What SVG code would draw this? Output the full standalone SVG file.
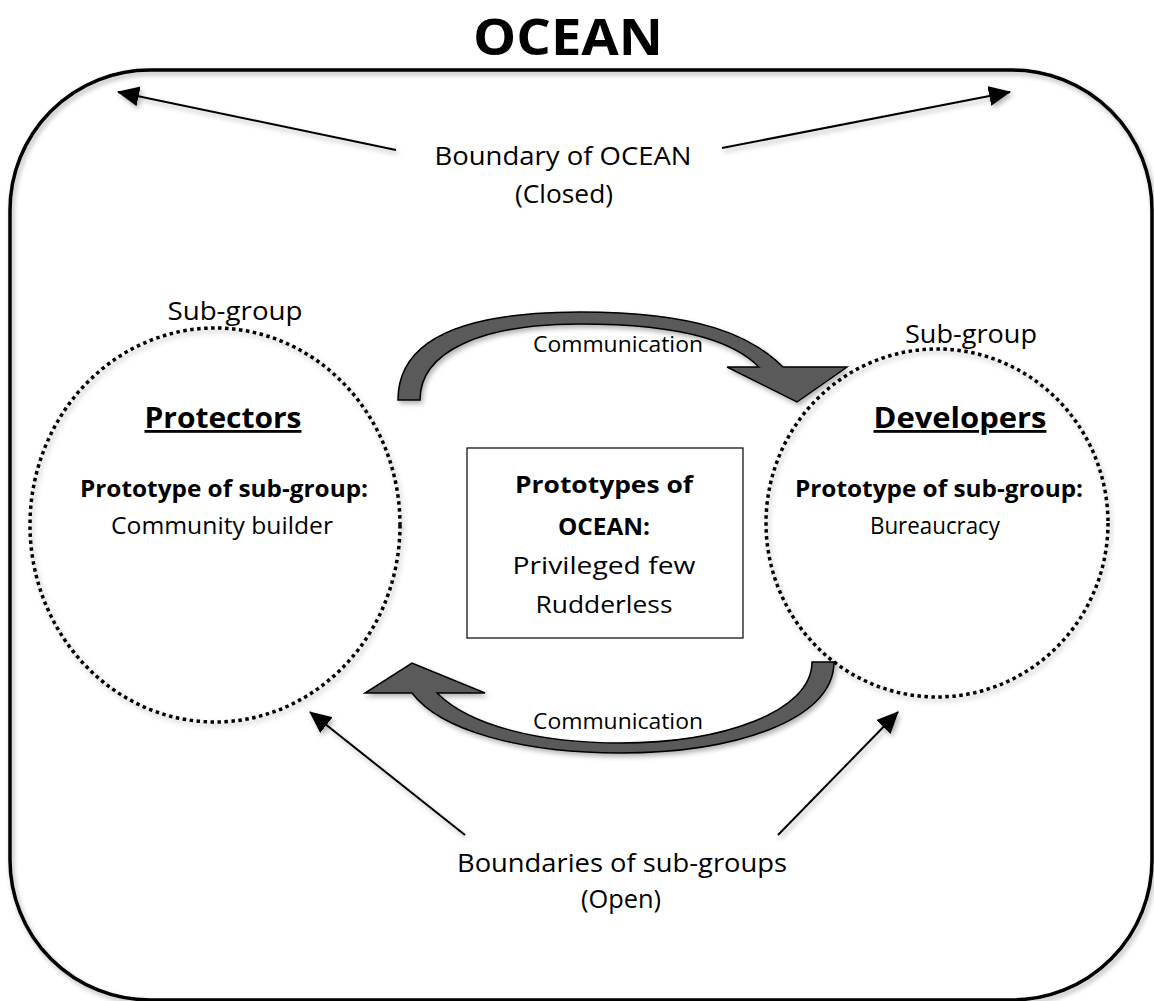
<svg xmlns="http://www.w3.org/2000/svg" width="1154" height="1001" viewBox="0 0 1154 1001">
  <defs>
    <filter id="shadow" x="-10%" y="-10%" width="120%" height="120%">
      <feDropShadow dx="2" dy="3" stdDeviation="2.5" flood-color="#000" flood-opacity="0.3"/>
    </filter>
    <marker id="head" markerUnits="userSpaceOnUse" markerWidth="22" markerHeight="20" refX="21" refY="10" orient="auto">
      <path d="M0,0 L22,10 L0,20 z" fill="#000"/>
    </marker>
  </defs>
  <style>
    text { font-family: "Open Sans", "Noto Sans", "Liberation Sans", sans-serif; fill: #000; }
    .b { font-weight: bold; }
    .u { text-decoration: underline; }
    .ptr { stroke: #000; stroke-width: 2; fill: none; marker-end: url(#head); }
    .comm { fill: #5a5a5a; stroke: #000; stroke-width: 1.5; stroke-linejoin: miter; }
    .sub { fill: none; stroke: #000; stroke-width: 3.5; stroke-dasharray: 3.5 3.5; }
  </style>
  <rect width="1154" height="1001" fill="#fff"/>

  <g id="ocean">
    <rect x="10" y="70" width="1142" height="930" rx="140" ry="140" fill="none" stroke="#000" stroke-width="3.5" filter="url(#shadow)"/>
    <text x="568" y="55" font-size="50" class="b" text-anchor="middle" textLength="190" lengthAdjust="spacingAndGlyphs">OCEAN</text>
  </g>

  <g id="protectors">
    <ellipse cx="215" cy="525" rx="185" ry="197" class="sub" filter="url(#shadow)"/>
    <text x="235" y="320" font-size="25" text-anchor="middle" textLength="135" lengthAdjust="spacingAndGlyphs">Sub-group</text>
    <text x="223" y="428" font-size="28" class="b u" text-anchor="middle" textLength="157" lengthAdjust="spacingAndGlyphs">Protectors</text>
    <text x="224" y="497" font-size="24" class="b" text-anchor="middle" textLength="288" lengthAdjust="spacingAndGlyphs">Prototype of sub-group:</text>
    <text x="222" y="534" font-size="24" text-anchor="middle" textLength="222" lengthAdjust="spacingAndGlyphs">Community builder</text>
  </g>

  <g id="developers">
    <ellipse cx="937" cy="523" rx="171" ry="174" class="sub" filter="url(#shadow)"/>
    <text x="971" y="343" font-size="25" text-anchor="middle" textLength="132" lengthAdjust="spacingAndGlyphs">Sub-group</text>
    <text x="960" y="428" font-size="28" class="b u" text-anchor="middle" textLength="173" lengthAdjust="spacingAndGlyphs">Developers</text>
    <text x="939" y="497" font-size="24" class="b" text-anchor="middle" textLength="288" lengthAdjust="spacingAndGlyphs">Prototype of sub-group:</text>
    <text x="935" y="534" font-size="24" text-anchor="middle" textLength="130" lengthAdjust="spacingAndGlyphs">Bureaucracy</text>
  </g>

  <g id="prototypes">
    <rect x="467" y="448" width="276" height="190" fill="#fff" stroke="#000" stroke-width="1.2"/>
    <text x="604" y="493" font-size="24" class="b" text-anchor="middle" textLength="178" lengthAdjust="spacingAndGlyphs">Prototypes of</text>
    <text x="604" y="535" font-size="24" class="b" text-anchor="middle" textLength="92" lengthAdjust="spacingAndGlyphs">OCEAN:</text>
    <text x="604" y="574" font-size="24" text-anchor="middle" textLength="183" lengthAdjust="spacingAndGlyphs">Privileged few</text>
    <text x="604" y="613" font-size="24" text-anchor="middle" textLength="137" lengthAdjust="spacingAndGlyphs">Rudderless</text>
  </g>

  <g id="label-ocean-boundary">
    <text x="563" y="165" font-size="25" text-anchor="middle" textLength="257" lengthAdjust="spacingAndGlyphs">Boundary of OCEAN</text>
    <text x="564" y="203" font-size="25" text-anchor="middle" textLength="98" lengthAdjust="spacingAndGlyphs">(Closed)</text>
  </g>

  <g id="label-sub-boundaries">
    <text x="622" y="872" font-size="25" text-anchor="middle" textLength="330" lengthAdjust="spacingAndGlyphs">Boundaries of sub-groups</text>
    <text x="621" y="908" font-size="25" text-anchor="middle" textLength="80" lengthAdjust="spacingAndGlyphs">(Open)</text>
  </g>

  <g id="connectors">
    <g filter="url(#shadow)">
      <line class="ptr" x1="396" y1="150" x2="118" y2="92"/>
      <line class="ptr" x1="722" y1="148" x2="1010" y2="92"/>
      <line class="ptr" x1="465" y1="835" x2="310" y2="712"/>
      <line class="ptr" x1="778" y1="835" x2="898" y2="712"/>
      <path class="comm" d="M398,400 C398,345 450,312 580,312 C700,312 752,336 783,367 L847,367 L797,402 L727,367 L759,367 C737,345 692,324 580,324 C480,324 420,352 420,400 Z"/>
      <path class="comm" d="M834,662 C834,722 730,753 620,753 C520,753 440,730 412,693 L365,693 L412,663 L485,693 L437,693 C470,726 540,743 620,743 C722,743 812,712 812,662 Z"/>
    </g>
    <text x="618" y="352" font-size="21" text-anchor="middle" textLength="170" lengthAdjust="spacingAndGlyphs">Communication</text>
    <text x="618" y="729" font-size="21" text-anchor="middle" textLength="170" lengthAdjust="spacingAndGlyphs">Communication</text>
  </g>
</svg>
